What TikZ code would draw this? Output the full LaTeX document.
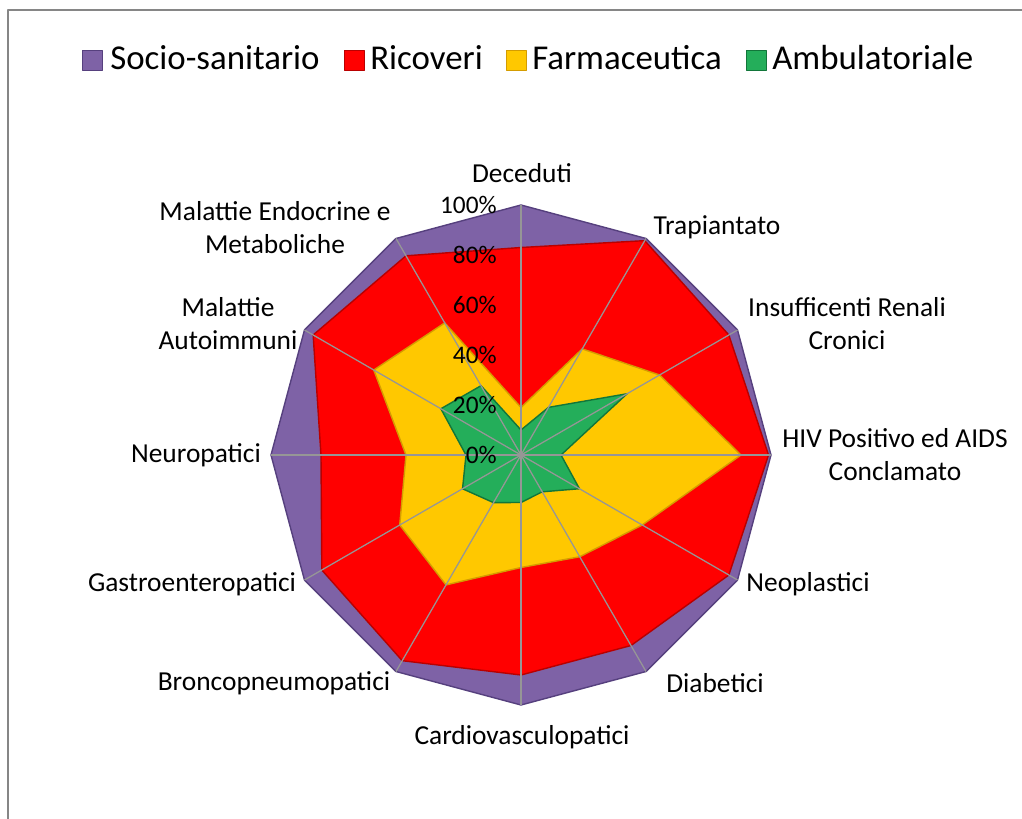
\documentclass[tikz,border=0pt]{standalone}
\usepackage{fontspec}
\setmainfont{Carlito}
\usepackage{tikz}
\definecolor{plum}{RGB}{126, 98, 166}
\definecolor{plumedge}{RGB}{86, 64, 126}
\definecolor{scarlet}{RGB}{255, 0, 0}
\definecolor{scarletedge}{RGB}{185, 0, 0}
\definecolor{amber}{RGB}{255, 200, 0}
\definecolor{amberedge}{RGB}{212, 156, 0}
\definecolor{jade}{RGB}{36, 174, 90}
\definecolor{jadeedge}{RGB}{18, 118, 58}
\definecolor{spoke}{RGB}{150, 150, 150}
\definecolor{frame}{RGB}{134, 134, 134}
\def\catsize{\fontsize{19.5}{24}\selectfont}
\def\ticksize{\fontsize{18}{22}\selectfont}
\def\legsize{\fontsize{24.8}{30}\selectfont}

\begin{document}
\begin{tikzpicture}[x=0.0625cm, y=0.0625cm, line join=round,
        cat/.style={font=\catsize, align=center, inner sep=0pt},
        tick/.style={font=\ticksize, anchor=east, inner sep=0pt},
        legtext/.style={font=\legsize, anchor=base west, inner sep=0pt},
        legmark/.style={minimum size=5mm, inner sep=0pt, line width=0.6pt}]

                 \useasboundingbox (-208.4, -145.6) rectangle (200.4, 182);
                 \draw[frame, line width=1.4pt] (-205.2, -145.6) -- (-205.2, 178) -- (200.4, 178);

                 \node[legmark, fill=plum, draw=plumedge] (msocio) at (-171.6, 158) {};
                 \node[legtext] (lsocio) at (-164.4, 154) {Socio-sanitario};
                 \node[legmark, fill=scarlet, draw=scarletedge] (mricoveri) at (-66.8, 158) {};
                 \node[legtext] (lricoveri) at (-60.4, 154) {Ricoveri};
                 \node[legmark, fill=amber, draw=amberedge] (mfarma) at (-2, 158) {};
                 \node[legtext] (lfarma) at (4.4, 154) {Farmaceutica};
                 \node[legmark, fill=jade, draw=jadeedge] (mambu) at (94, 158) {};
                 \node[legtext] (lambu) at (100.4, 154) {Ambulatoriale};

                 \path[fill=plum, draw=plumedge, line width=1pt]
                 (90:100) -- (60:100) -- (30:100) -- (0:100) -- (-30:100) -- (-60:100) --
                 (-90:100) -- (-120:100) -- (-150:100) -- (180:100) -- (150:100) -- (120:100) -- cycle;

                 \path[fill=scarlet, draw=scarletedge, line width=1pt]
                 (90:83) -- (60:99) -- (30:96) -- (0:99) -- (-30:96) -- (-60:88) --
                 (-90:88) -- (-120:95) -- (-150:92) -- (180:80) -- (150:96) -- (120:92) -- cycle;

                 \path[fill=amber, draw=amberedge, line width=1pt]
                 (90:19) -- (60:49) -- (30:64) -- (0:88) -- (-30:56) -- (-60:47) --
                 (-90:45) -- (-120:60) -- (-150:56) -- (180:46) -- (150:68) -- (120:61) -- cycle;

                 \path[fill=jade, draw=jadeedge, line width=1pt]
                 (90:10) -- (60:22) -- (30:49) -- (0:16) -- (-30:27) -- (-60:17) --
                 (-90:19) -- (-120:22) -- (-150:27) -- (180:22) -- (150:37) -- (120:32) -- cycle;

                 \coordinate (o) at (0, 0);
                 \coordinate (adeceduti) at (90:100);
                 \coordinate (atrapiantato) at (60:100);
                 \coordinate (arenali) at (30:100);
                 \coordinate (ahiv) at (0:100);
                 \coordinate (aneoplastici) at (-30:100);
                 \coordinate (adiabetici) at (-60:100);
                 \coordinate (acardio) at (-90:100);
                 \coordinate (abronco) at (-120:100);
                 \coordinate (agastro) at (-150:100);
                 \coordinate (aneuro) at (180:100);
                 \coordinate (aautoimmuni) at (150:100);
                 \coordinate (aendocrine) at (120:100);

                 \draw[spoke, line width=0.9pt] (o) -- (adeceduti);
                 \draw[spoke, line width=0.9pt] (o) -- (atrapiantato);
                 \draw[spoke, line width=0.9pt] (o) -- (arenali);
                 \draw[spoke, line width=0.9pt] (o) -- (ahiv);
                 \draw[spoke, line width=0.9pt] (o) -- (aneoplastici);
                 \draw[spoke, line width=0.9pt] (o) -- (adiabetici);
                 \draw[spoke, line width=0.9pt] (o) -- (acardio);
                 \draw[spoke, line width=0.9pt] (o) -- (abronco);
                 \draw[spoke, line width=0.9pt] (o) -- (agastro);
                 \draw[spoke, line width=0.9pt] (o) -- (aneuro);
                 \draw[spoke, line width=0.9pt] (o) -- (aautoimmuni);
                 \draw[spoke, line width=0.9pt] (o) -- (aendocrine);
                 \fill[spoke] (o) circle[radius=1.2];

                 \node[tick] (t100) at (-9.6, 100) {100\%};
                 \node[tick] (t80) at (-9.6, 80) {80\%};
                 \node[tick] (t60) at (-9.6, 60) {60\%};
                 \node[tick] (t40) at (-9.6, 40) {40\%};
                 \node[tick] (t20) at (-9.6, 20) {20\%};
                 \node[tick] (t0) at (-9.6, 0) {0\%};

                 \node[cat] (deceduti) at (0.4, 112.8) {Deceduti};
                 \node[cat] (trapiantato) at (78.4, 91.2) {Trapiantato};
                 \node[cat] (renali) at (130.4, 52.6) {Insufficenti Renali\\Cronici};
                 \node[cat] (hiv) at (149.6, 0.2) {HIV Positivo ed AIDS\\Conclamato};
                 \node[cat] (neoplastici) at (114.8, -51.6) {Neoplastici};
                 \node[cat] (diabetici) at (77.6, -91.2) {Diabetici};
                 \node[cat] (cardio) at (0.4, -112.8) {Cardiovasculopatici};
                 \node[cat] (bronco) at (-98.8, -91.2) {Broncopneumopatici};
                 \node[cat] (gastro) at (-131.6, -51.6) {Gastroenteropatici};
                 \node[cat] (neuro) at (-130, 0) {Neuropatici};
                 \node[cat] (autoimmuni) at (-117.2, 52.6) {Malattie\\Autoimmuni};
                 \node[cat] (endocrine) at (-98.4, 91) {Malattie Endocrine e\\Metaboliche};

             \end{tikzpicture}
\end{document}
